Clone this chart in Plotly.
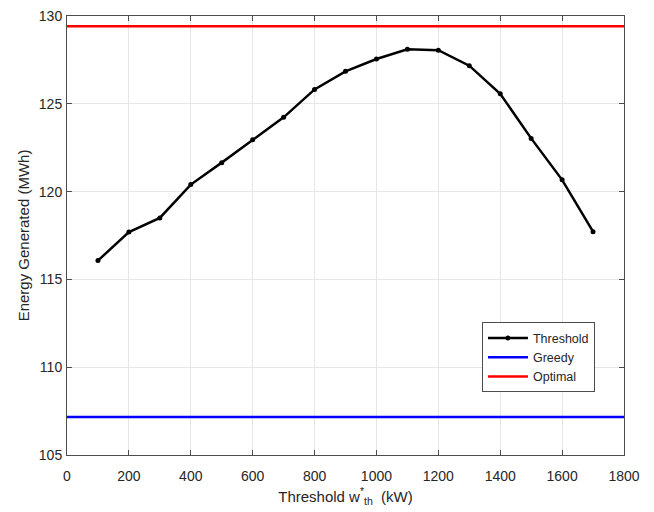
import plotly.graph_objects as go

thresholds = [100, 200, 300, 400, 500, 600, 700, 800, 900, 1000, 1100, 1200, 1300, 1400, 1500, 1600, 1700]
energy_threshold = [116.07, 117.7, 118.5, 120.4, 121.65, 122.95, 124.23, 125.82, 126.85, 127.55, 128.1, 128.05, 127.17, 125.57, 123.03, 120.67, 117.72]
greedy_value = 107.16
optimal_value = 129.42
x_range = [0, 1800]
y_range = [105, 130]
x_ticks = [0, 200, 400, 600, 800, 1000, 1200, 1400, 1600, 1800]
y_ticks = [105, 110, 115, 120, 125, 130]

fig = go.Figure()
fig.add_trace(go.Scatter(x=thresholds, y=energy_threshold, mode="lines+markers",
                         name="Threshold", line=dict(color="black", width=2.5),
                         marker=dict(color="black", size=5)))
fig.add_trace(go.Scatter(x=x_range, y=[greedy_value, greedy_value], mode="lines",
                         name="Greedy", line=dict(color="#0000ff", width=2.5)))
fig.add_trace(go.Scatter(x=x_range, y=[optimal_value, optimal_value], mode="lines",
                         name="Optimal", line=dict(color="#ff0000", width=2.5)))

axis_common = dict(showline=True, linecolor="#4d4d4d", linewidth=1, mirror="ticks",
                   ticks="inside", ticklen=5, tickcolor="#4d4d4d",
                   showgrid=True, gridcolor="#e6e6e6", gridwidth=1, zeroline=False,
                   automargin=False,
                   tickfont=dict(family="Liberation Sans, Arial, sans-serif", size=14, color="#262626"))

fig.update_layout(
    width=654, height=512,
    margin=dict(l=67, r=30, t=16, b=57),
    paper_bgcolor="white", plot_bgcolor="white",
    font=dict(family="Liberation Sans, Arial, sans-serif", color="#262626"),
    xaxis=dict(range=x_range, tickvals=x_ticks, ticklabelstandoff=8, **axis_common,
               title=dict(text="Threshold w<sup>*</sup><sub>th</sub>  (kW)", font=dict(size=15), standoff=8)),
    yaxis=dict(range=y_range, tickvals=y_ticks, ticklabelstandoff=1, **axis_common,
               title=dict(text="Energy Generated (MWh)", font=dict(size=15), standoff=5)),
    legend=dict(x=0.745, y=0.302, xanchor="left", yanchor="top",
                bgcolor="white", bordercolor="#4d4d4d", borderwidth=1,
                font=dict(size=12.5, color="#262626"), tracegroupgap=0,
                itemwidth=40),
    showlegend=True,
)

fig.write_html("out.html")
